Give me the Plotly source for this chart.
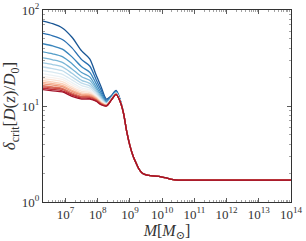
import plotly.graph_objects as go

# log10 of halo mass where curves differ
LOG_M_VAR = [6.3, 6.6, 6.9, 7.2, 7.5, 7.75, 7.95, 8.1, 8.27, 8.42, 8.57, 8.7]
# common tail (all curves converge)
LOG_M_TAIL = [8.8, 8.9, 9.0, 9.1, 9.2, 9.3, 9.4, 9.5, 9.7, 9.9, 10.1, 10.3, 10.5, 10.7, 11.0, 12.0, 13.0, 14.0]
TAIL_VALUES = [8.4, 5.4, 3.85, 3.0, 2.5, 2.15, 1.98, 1.92, 1.87, 1.85, 1.79, 1.72, 1.69, 1.686, 1.686, 1.686, 1.686, 1.686]

# curves, from top (blue) to bottom (red)
CURVES = [
    [76.7, 72.0, 65.0, 52.0, 37.5, 31.0, 21.0, 16.0, 11.8, 12.8, 14.5, 11.5],
    [57.0, 53.9, 49.3, 40.3, 30.4, 26.1, 18.8, 14.8, 11.5, 12.6, 14.3, 11.4],
    [44.5, 42.3, 39.1, 32.5, 25.6, 22.5, 17.1, 13.8, 11.2, 12.4, 14.1, 11.3],
    [36.7, 35.0, 32.7, 27.6, 22.3, 20.1, 15.8, 13.1, 11.0, 12.2, 13.9, 11.3],
    [31.7, 30.3, 28.5, 24.3, 20.2, 18.5, 15.0, 12.6, 10.8, 12.1, 13.8, 11.2],
    [28.1, 27.0, 25.5, 21.9, 18.5, 17.2, 14.3, 12.2, 10.7, 12.0, 13.7, 11.2],
    [25.5, 24.5, 23.3, 20.1, 17.3, 16.2, 13.8, 11.9, 10.6, 11.9, 13.6, 11.2],
    [23.4, 22.5, 21.4, 18.7, 16.3, 15.4, 13.3, 11.6, 10.5, 11.8, 13.5, 11.1],
    [21.6, 20.8, 19.9, 17.5, 15.4, 14.7, 12.9, 11.4, 10.4, 11.8, 13.5, 11.1],
    [20.4, 19.7, 18.9, 16.6, 14.8, 14.2, 12.7, 11.2, 10.3, 11.7, 13.4, 11.1],
    [19.3, 18.7, 17.9, 15.8, 14.2, 13.8, 12.4, 11.1, 10.3, 11.7, 13.4, 11.1],
    [18.4, 17.8, 17.1, 15.2, 13.7, 13.4, 12.2, 10.9, 10.2, 11.7, 13.4, 11.1],
    [17.6, 17.1, 16.4, 14.6, 13.3, 13.1, 12.0, 10.8, 10.2, 11.6, 13.3, 11.1],
    [17.0, 16.5, 15.9, 14.2, 13.0, 12.8, 11.8, 10.7, 10.1, 11.6, 13.3, 11.0],
    [16.3, 15.8, 15.3, 13.7, 12.6, 12.5, 11.6, 10.6, 10.1, 11.6, 13.3, 11.0],
    [15.8, 15.4, 14.9, 13.3, 12.4, 12.3, 11.5, 10.5, 10.1, 11.5, 13.2, 11.0],
    [15.3, 14.9, 14.4, 13.0, 12.1, 12.0, 11.3, 10.4, 10.0, 11.5, 13.2, 11.0],
    [14.8, 14.4, 14.0, 12.6, 11.8, 11.8, 11.2, 10.3, 10.0, 11.5, 13.2, 11.0],
]

X_TICK_EXP = [7, 8, 9, 10, 11, 12, 13, 14]
Y_TICK_EXP = [0, 1, 2]
X_MINOR_DECADES = list(range(6, 14))
Y_MINOR_DECADES = [0, 1]

# ColorBrewer RdBu (red -> blue)
RDBU = [(103, 0, 31), (178, 24, 43), (214, 96, 77), (244, 165, 130), (253, 219, 199),
        (247, 247, 247), (209, 229, 240), (146, 197, 222), (67, 147, 195), (33, 102, 172), (5, 48, 97)]


def cmap(t):
    t = min(max(t, 0.0), 1.0) * (len(RDBU) - 1)
    i = int(t)
    if i >= len(RDBU) - 1:
        c = RDBU[-1]
    else:
        f = t - i
        a, b = RDBU[i], RDBU[i + 1]
        c = tuple(a[k] + (b[k] - a[k]) * f for k in range(3))
    return "rgb(%d,%d,%d)" % tuple(round(v) for v in c)


fig = go.Figure()
n = len(CURVES)
t_lo, t_hi = 0.08, 0.93
for i, vals in enumerate(CURVES):
    # i=0 is top (blue)
    t = t_hi - (t_hi - t_lo) * i / (n - 1)
    xs = [10 ** v for v in LOG_M_VAR + LOG_M_TAIL]
    ys = vals + TAIL_VALUES
    fig.add_trace(go.Scatter(x=xs, y=ys, mode="lines",
                             line=dict(color=cmap(t), width=1.3, shape="spline", smoothing=0.8),
                             showlegend=False, hoverinfo="skip"))

font_family = "Liberation Serif, DejaVu Serif, serif"
axis_common = dict(
    type="log", showgrid=False, zeroline=False, automargin=False,
    showline=True, linecolor="#333", linewidth=1, mirror="ticks",
    ticks="inside", ticklen=4, tickcolor="#333", tickwidth=0.8,
    tickfont=dict(family=font_family, size=13, color="#333"),
    ticklabeloverflow="allow",
)


def minor_vals(decades):
    return [m * 10 ** d for d in decades for m in range(2, 10)]


fig.update_layout(
    template="none",
    width=306, height=241,
    margin=dict(l=43, r=15, t=10, b=39, pad=0),
    paper_bgcolor="white", plot_bgcolor="white",
    font=dict(family=font_family, color="#333"),
    hovermode=False,
    xaxis=dict(axis_common, range=[6.3, 14],
               tickvals=[10 ** e for e in X_TICK_EXP],
               ticktext=["10<sup>%d</sup>" % e for e in X_TICK_EXP],
               minor=dict(tickvals=minor_vals(X_MINOR_DECADES), ticks="inside", ticklen=2,
                          tickcolor="#666", tickwidth=0.6, showgrid=False),
               title=dict(text="<i>M</i>[<i>M</i><sub>⊙</sub>]", font=dict(size=16, family=font_family), standoff=7)),
    yaxis=dict(axis_common, range=[0, 2],
               tickvals=[10 ** e for e in Y_TICK_EXP],
               ticktext=["10<sup>%d</sup>" % e for e in Y_TICK_EXP],
               minor=dict(tickvals=minor_vals(Y_MINOR_DECADES), ticks="inside", ticklen=2,
                          tickcolor="#666", tickwidth=0.6, showgrid=False),
               title=dict(text="<i>δ</i><sub>crit</sub>[<i>D</i>(<i>z</i>)/<i>D</i><sub>0</sub>]",
                          font=dict(size=17, family=font_family), standoff=2)),
)

fig.write_html("out.html", config={"displayModeBar": False, "staticPlot": True},
               post_script="document.body.style.margin='0';document.body.style.padding='0';")
